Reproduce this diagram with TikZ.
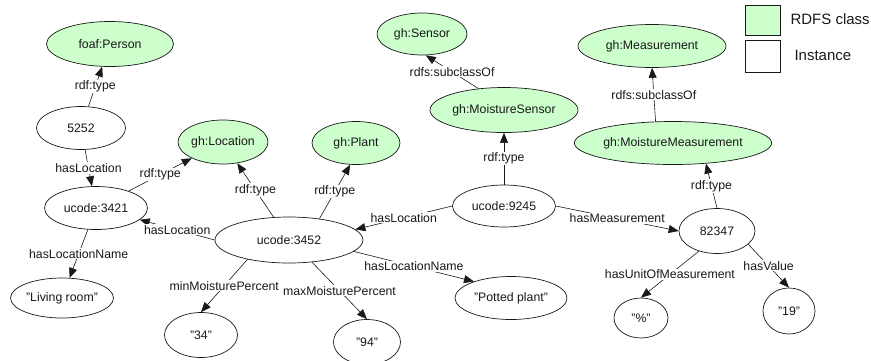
\documentclass[tikz,border=0pt]{standalone}
\usepackage{fontspec}
\setmainfont{Liberation Sans}
\usetikzlibrary{shapes.geometric,arrows.meta}
\definecolor{clsgreen}{RGB}{204,255,204}
\definecolor{ink}{RGB}{25,25,25}
\begin{document}
\begin{tikzpicture}[x=1pt,y=-1pt,
  every node/.style={font=\fontsize{12.3}{14}\selectfont, text=ink},
  ent/.style={ellipse, draw=ink, line width=0.7pt, inner sep=0pt, fill=white},
  classnode/.style={ent, fill=clsgreen},
  rel/.style={draw=ink, line width=0.6pt, -{Triangle[length=10pt,width=8pt]}},
  lbl/.style={fill=white, inner sep=1pt},
  legbox/.style={draw=ink, line width=0.6pt, minimum width=35pt, inner sep=0pt},
  legtext/.style={anchor=west, font=\fontsize{15}{18}\selectfont}]
\useasboundingbox (0,0) rectangle (871,360);

% class nodes
\node[classnode, minimum width=127pt, minimum height=45pt] (person) at (110,44) {foaf:Person};
\node[classnode, minimum width=89pt, minimum height=44pt] (loc) at (223,142) {gh:Location};
\node[classnode, minimum width=88pt, minimum height=43pt] (plant) at (356,143) {gh:Plant};
\node[classnode, minimum width=90pt, minimum height=42pt] (sensor) at (422,34) {gh:Sensor};
\node[classnode, minimum width=148pt, minimum height=45pt] (msensor) at (504,110) {gh:MoistureSensor};
\node[classnode, minimum width=148pt, minimum height=43pt] (meas) at (652,46) {gh:Measurement};
\node[classnode, minimum width=192pt, minimum height=43pt] (mmeas) at (673,143) {gh:MoistureMeasurement};

% instance nodes
\node[ent, minimum width=89pt, minimum height=43pt] (n5252) at (81,128) {5252};
\node[ent, minimum width=103pt, minimum height=43pt] (u3421) at (96,208) {ucode:3421};
\node[ent, minimum width=103pt, minimum height=40pt] (living) at (62,298) {"Living room"};
\node[ent, minimum width=148pt, minimum height=46pt] (u3452) at (289,240) {ucode:3452};
\node[ent, minimum width=73pt, minimum height=45pt] (n34) at (201,335) {"34"};
\node[ent, minimum width=67pt, minimum height=45pt] (n94) at (367,342) {"94"};
\node[ent, minimum width=112pt, minimum height=43pt] (potted) at (511,298) {"Potted plant"};
\node[ent, minimum width=103pt, minimum height=42pt] (u9245) at (504,206) {ucode:9245};
\node[ent, minimum width=76pt, minimum height=45pt] (m82347) at (717,231) {82347};
\node[ent, minimum width=54pt, minimum height=40pt] (pct) at (641,318) {"\%"};
\node[ent, minimum width=52pt, minimum height=46pt] (n19) at (789,311) {"19"};

% connectors
\draw[rel] (n5252) -- node[lbl]{rdf:type} (person);
\draw[rel] (n5252) -- node[lbl]{hasLocation} (u3421);
\draw[rel] (u3421) -- node[lbl]{rdf:type} (loc);
\draw[rel] (u3421) -- node[lbl]{hasLocationName} (living);
\draw[rel] (u3452.west) -- node[lbl]{hasLocation} (u3421.-15);
\draw[rel] (u3452) -- node[lbl]{rdf:type} (loc);
\draw[rel] (u3452.35) -- node[lbl]{rdf:type} (plant.-105);
\draw[rel] (u3452.-155) -- node[lbl]{minMoisturePercent} (n34.north);
\draw[rel] (u3452.-44) -- node[lbl]{maxMoisturePercent} (n94.north);
\draw[rel] (u3452.-10) -- node[lbl]{hasLocationName} (potted.156);
\draw[rel] (u9245.west) -- node[lbl]{hasLocation} (u3452.9);
\draw[rel] (u9245) -- node[lbl]{rdf:type} (msensor);
\draw[rel] (u9245.east) -- node[lbl]{hasMeasurement} (m82347.west);
\draw[rel] (msensor.140) -- node[lbl]{rdfs:subclassOf} (sensor.-80);
\draw[rel] (mmeas.129) -- node[lbl]{rdfs:subclassOf} (meas.south);
\draw[rel] (m82347.north) -- node[lbl]{rdf:type} (mmeas.-32);
\draw[rel] (m82347.-132) -- node[lbl]{hasUnitOfMeasurement} (pct.north);
\draw[rel] (m82347.-23) -- node[lbl]{hasValue} (n19.north);

% legend
\node[legbox, fill=clsgreen, minimum height=30pt] (legc) at (762.5,20) {};
\node[legbox, fill=white, minimum height=32pt] (legi) at (762.5,56) {};
\node[legtext] (legct) at (787,19) {RDFS class};
\node[legtext] (legit) at (791,55) {Instance};
\end{tikzpicture}
\end{document}
